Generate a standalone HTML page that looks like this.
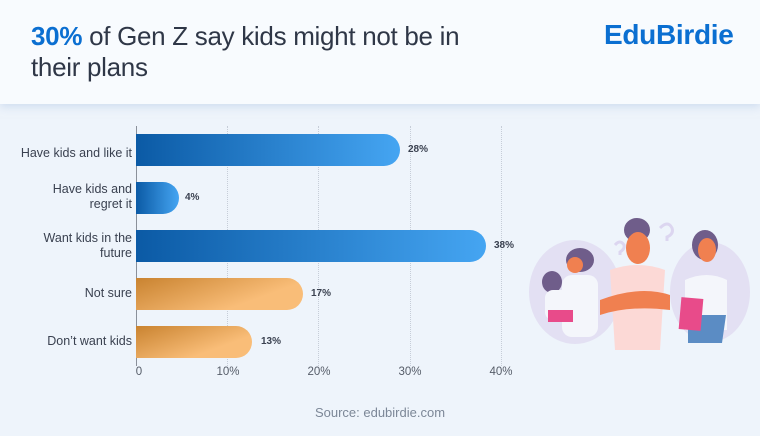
<!DOCTYPE html>
<html><head><meta charset="utf-8"><style>
*{margin:0;padding:0;box-sizing:border-box}
body{width:760px;height:436px;background:#eef4fb;font-family:"Liberation Sans",sans-serif;position:relative;overflow:hidden}
.hdr{position:absolute;left:0;top:0;width:760px;height:104px;background:#f8fbfe;box-shadow:0 3px 8px rgba(180,200,230,.5)}
.title{position:absolute;left:31px;top:21px;font-size:26px;line-height:31px;color:#2f3747;letter-spacing:-0.3px}
.title b{color:#0b6fd1}
.logo{position:absolute;left:604px;top:19px;font-size:28px;font-weight:bold;color:#0b6fd1;letter-spacing:-0.3px}
.lab{position:absolute;right:628px;font-size:12.5px;color:#3a4150;text-align:right;line-height:15px;white-space:nowrap}
.bar{position:absolute;left:136px;height:32px;border-radius:0 16px 16px 0}
.b{background:linear-gradient(90deg,#0b5aa5,#45a5f2)}
.o{background:linear-gradient(160deg,#c98330,#f9bd78 70%)}
.val{position:absolute;font-size:10px;font-weight:bold;color:#3a4150}
.grid{position:absolute;top:126px;height:240px;border-left:1px dotted #c6cdd8}
.tick{position:absolute;top:366px;font-size:11.5px;color:#555c68;transform:translateX(-50%)}
.src{position:absolute;left:0;width:760px;top:405px;text-align:center;font-size:13px;color:#7c8797}
</style></head><body>
<div class="hdr"></div>
<div class="title"><b>30%</b> of Gen Z say kids might not be in<br>their plans</div>
<div class="logo">EduBirdie</div>
<div class="grid" style="left:227px"></div>
<div class="grid" style="left:318px"></div>
<div class="grid" style="left:410px"></div>
<div class="grid" style="left:501px"></div>
<div style="position:absolute;left:136px;top:126px;height:240px;border-left:1px solid #8a909a"></div>
<div class="lab" style="top:146px">Have kids and like it</div>
<div class="lab" style="top:182px">Have kids and<br>regret it</div>
<div class="lab" style="top:231px">Want kids in the<br>future</div>
<div class="lab" style="top:286px">Not sure</div>
<div class="lab" style="top:334px">Don’t want kids</div>
<div class="bar b" style="top:134px;width:264px"></div>
<div class="bar b" style="top:182px;width:43px"></div>
<div class="bar b" style="top:230px;width:350px"></div>
<div class="bar o" style="top:278px;width:167px"></div>
<div class="bar o" style="top:326px;width:116px"></div>
<div class="val" style="left:408px;top:144px">28%</div>
<div class="val" style="left:185px;top:192px">4%</div>
<div class="val" style="left:494px;top:240px">38%</div>
<div class="val" style="left:311px;top:288px">17%</div>
<div class="val" style="left:261px;top:336px">13%</div>
<div class="tick" style="left:139px">0</div>
<div class="tick" style="left:228px">10%</div>
<div class="tick" style="left:319px">20%</div>
<div class="tick" style="left:410px">30%</div>
<div class="tick" style="left:501px">40%</div>
<div class="src">Source: edubirdie.com</div>
<svg style="position:absolute;left:520px;top:210px" width="240" height="150" viewBox="0 0 240 150">
<ellipse cx="55" cy="82" rx="46" ry="52" fill="#e3e0f3"/>
<ellipse cx="190" cy="82" rx="40" ry="50" fill="#e3e0f3"/>
<path d="M140 18 q8-8 12 0 q2 6-5 9 v4" stroke="#dcd6f0" stroke-width="3" fill="none"/>
<path d="M95 35 q5-6 9 0 q1 4-4 7 v3" stroke="#dcd6f0" stroke-width="3" fill="none"/>
<ellipse cx="60" cy="50" rx="14" ry="12" fill="#6f5d8a"/>
<circle cx="55" cy="55" r="8" fill="#f08050"/>
<rect x="42" y="65" width="36" height="62" rx="10" fill="#f4f6fb"/>
<ellipse cx="32" cy="72" rx="10" ry="11" fill="#6f5d8a"/>
<rect x="25" y="80" width="28" height="30" rx="8" fill="#f4f6fb"/>
<rect x="28" y="100" width="25" height="12" fill="#e84b8a"/>
<ellipse cx="117" cy="20" rx="13" ry="12" fill="#6f5d8a"/>
<ellipse cx="118" cy="38" rx="12" ry="16" fill="#f08050"/>
<path d="M90 60 q28-10 55 0 l-5 80 h-45 z" fill="#fcd9d6"/>
<path d="M80 90 q40-15 70 -5 l0 15 q-40 -5 -70 5 z" fill="#f08050"/>
<ellipse cx="185" cy="35" rx="13" ry="15" fill="#6f5d8a"/>
<ellipse cx="187" cy="40" rx="9" ry="12" fill="#f08050"/>
<path d="M165 70 q22-10 42 0 v50 h-42 z" fill="#f4f6fb"/>
<path d="M168 105 h38 l-4 28 h-34 z" fill="#5b8cc4"/>
<rect x="160" y="88" width="22" height="32" fill="#e84b8a" transform="rotate(5 171 104)"/>
</svg>
</body></html>
